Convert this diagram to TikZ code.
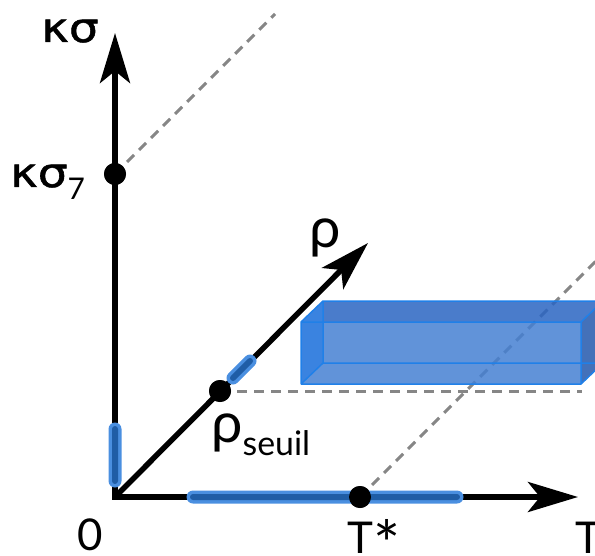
\documentclass[tikz,border=0pt]{standalone}
\usepackage{fontspec}
\setmainfont{Lato}
\newfontfamily\greekfont[FakeBold=1.2]{DejaVu Sans}
\usepackage{tikz}
\usetikzlibrary{
	arrows.meta,
	positioning,
	calc
}
\usepackage{xcolor}
\definecolor{guidegray}{HTML}{868686}
\definecolor{zoneout}{HTML}{4A8FE0}
\definecolor{zonein}{HTML}{1F5DA6}
\definecolor{boxedge}{HTML}{2080E8}
\definecolor{boxtop}{HTML}{2A65C2}
\definecolor{boxfront}{HTML}{4580D2}
\definecolor{boxleft}{HTML}{186DDB}
\definecolor{boxright}{HTML}{2358AD}
\newcommand{\kslabel}{\scalebox{1.15}[1]{\greekfont\fontsize{41}{44}\selectfont κσ}}
\newcommand{\rholabel}{{\fontsize{56}{60}\selectfont ρ}}

\begin{document}
\begin{tikzpicture}[x=1bp,y=-1bp,
		>={Stealth[length=50bp,width=30bp,inset=12bp]},
		axis/.style={line width=5.5bp},
		guide/.style={draw=guidegray,line width=3bp,dash pattern=on 10bp off 7bp},
		dot/.style={circle,fill=black,inner sep=0pt,minimum size=22bp},
		zone/.style={line width=13bp,line cap=round,draw=zoneout},
		zonecore/.style={line width=6bp,line cap=round,draw=zonein},
		face/.style={fill opacity=0.85},
		lbl/.style={font=\fontsize{44}{48}\selectfont,inner sep=0pt}]
		
		\clip (0,0) rectangle (595,556);
		
		% Points
		\coordinate (O) at (115,497);
		\coordinate (ktip) at (115,33);
		\coordinate (ttip) at (578,497);
		\coordinate (rtip) at (368,243);
		\coordinate (kend) at (275,14);
		\coordinate (rend) at (582,391);
		\coordinate (tend) at (600,257);
		
		\node[dot] (k7) at (115,174) {};
		\node[dot] (rs) at (220,391) {};
		\node[dot] (ts) at (360,497) {};
		
		% Guide lines
		\draw[guide] (k7.center) -- (kend);
		\draw[guide] (rs.center) -- (rend);
		\draw[guide] (ts.center) -- (tend);
		
		% Box
		\coordinate (fa) at (301,322);
		\coordinate (fb) at (581,322);
		\coordinate (fc) at (581,384);
		\coordinate (fd) at (301,384);
		\coordinate (ba) at (323,301);
		\coordinate (bb) at (603,301);
		\coordinate (bc) at (603,363);
		\coordinate (bd) at (323,363);
		\coordinate (fe) at (323,322);
		
		\fill[face,boxtop] (ba) -- (bb) -- (fb) -- (fe) -- cycle;
		\fill[face,boxleft] (fa) -- (ba) -- (bd) -- (fd) -- cycle;
		\fill[face,boxfront] (fe) -- (fb) -- (fc) -- (fd) -- (bd) -- cycle;
		\fill[face,boxright] (fb) -- (bb) -- (bc) -- (fc) -- cycle;
		
		\draw[boxedge,line width=1.5bp,line join=round]
		(fa) -- (fb) -- (fc) -- (fd) -- cycle
		(ba) -- (bb) -- (bc) -- (bd) -- cycle
		(fa) -- (ba) (fb) -- (bb) (fc) -- (bc) (fd) -- (bd);
		
		% Axes
		\draw[axis,<->] (ktip) -- (O) -- (ttip);
		\draw[axis,->] (O) -- (rtip);
		
		% Zones
		\coordinate (za) at (115,429);
		\coordinate (zb) at (115,481);
		\coordinate (zc) at (193,497);
		\coordinate (zd) at (457,497);
		\coordinate (ze) at (233,378);
		\coordinate (zf) at (250,361);
		
		\draw[zone] (za) -- (zb) (zc) -- (zd) (ze) -- (zf);
		\draw[zonecore] (za) -- (zb) (zc) -- (zd) (ze) -- (zf);
		
		% Dots again on top
		\fill (k7) circle (11bp);
		\fill (rs) circle (11bp);
		\fill (ts) circle (11bp);
		
		% Labels
		\node[lbl,anchor=base] (lk) at (70,42) {\kslabel};
		\node[lbl,anchor=base west] (lk7) at (10,187)
		{\kslabel\raisebox{-13bp}{\fontsize{30}{30}\selectfont 7}};
		\node[lbl,anchor=base] (lr) at (325,247) {\rholabel};
		\node[lbl,anchor=base west] (lrs) at (211,442)
		{\rholabel\raisebox{-13bp}{\fontsize{34}{34}\selectfont seuil}};
		\node[lbl,anchor=base] (lo) at (90,550) {0};
		\node[lbl,anchor=base west] (lts) at (347,553)
		{T\raisebox{-14bp}{\fontsize{64}{64}\selectfont *}};
		\node[lbl,anchor=base west] (lt) at (575,553) {T};
		
	\end{tikzpicture}
\end{document}
